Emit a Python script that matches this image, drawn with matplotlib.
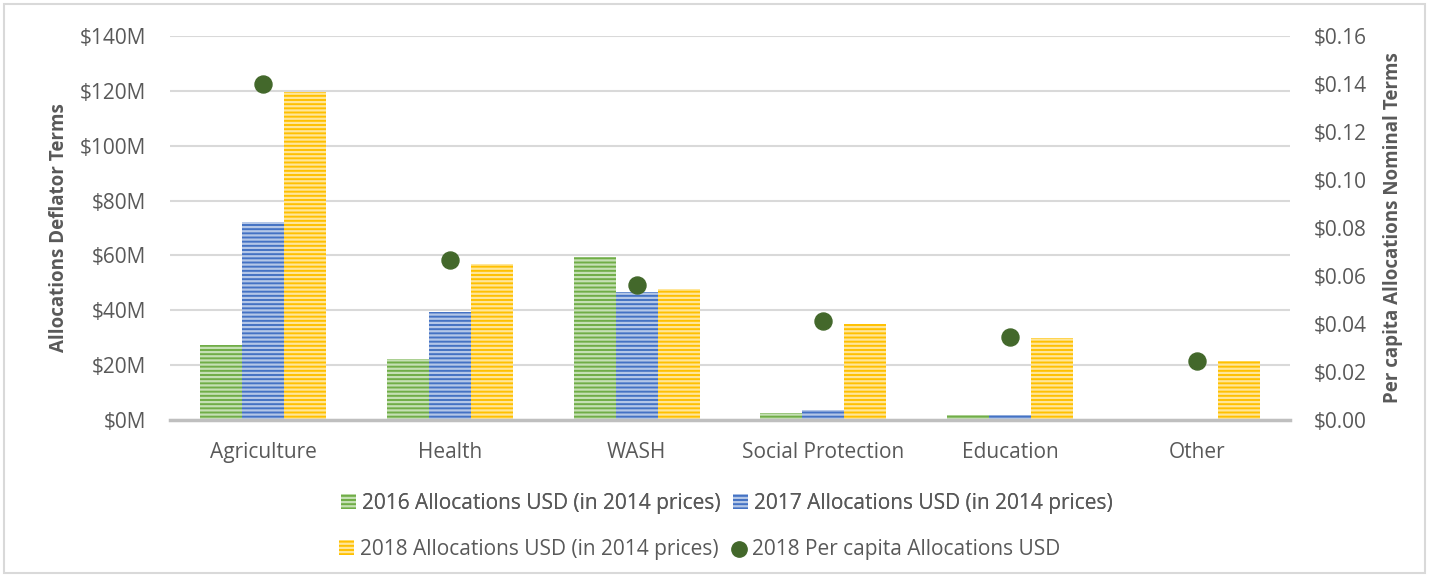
import matplotlib
matplotlib.use("Agg")
import matplotlib.pyplot as plt
import numpy as np
from matplotlib.ticker import FuncFormatter
from matplotlib.patches import Rectangle

categories = ["Agriculture", "Health", "WASH", "Social Protection", "Education", "Other"]
alloc_2016 = [27.3, 22.2, 59.4, 2.5, 1.8, 0.2]
alloc_2017 = [72.2, 39.4, 46.7, 3.6, 2.0, 0.3]
alloc_2018 = [119.6, 56.9, 47.8, 35.0, 29.9, 21.5]
percap_2018 = [0.140, 0.0667, 0.0563, 0.0412, 0.0346, 0.0246]

series_labels = ["2016 Allocations USD (in 2014 prices)",
                 "2017 Allocations USD (in 2014 prices)",
                 "2018 Allocations USD (in 2014 prices)",
                 "2018 Per capita Allocations USD"]

plt.rcParams['font.family'] = ['Open Sans', 'DejaVu Sans']
plt.rcParams['hatch.linewidth'] = 1.6
txt = '#595959'

fig = plt.figure(figsize=(14.29, 5.77), dpi=100)
ax = fig.add_axes([170/1429, 1-420/577, (1290-170)/1429, (420-36)/577])
ax2 = ax.twinx()

x = np.arange(len(categories))
w = 0.225
colors = ['#70AD47', '#4472C4', '#FFC000']
lights = ['#C5E0B4', '#B4C7E7', '#FFE699']
handles = []
for i, (vals, c, lc) in enumerate(zip([alloc_2016, alloc_2017, alloc_2018], colors, lights)):
    b = ax.bar(x + (i - 1) * w, vals, width=w, color=c, edgecolor=lc, linewidth=0,
               hatch='----', label=series_labels[i], zorder=2)
    handles.append(b)

sc = ax2.scatter(x, percap_2018, s=150, color='#43682B', zorder=3, label=series_labels[3])
handles.append(sc)

ax.set_xlim(-0.5, len(categories) - 0.5)
ax.set_ylim(0, 140)
ax.set_yticks(np.arange(0, 141, 20))
ax.yaxis.set_major_formatter(FuncFormatter(lambda v, p: f"${v:.0f}M"))
ax2.set_ylim(0, 0.16)
ax2.set_yticks(np.arange(0, 0.161, 0.02))
ax2.yaxis.set_major_formatter(FuncFormatter(lambda v, p: f"${v:.2f}"))

ax.grid(axis='y', color='#D9D9D9', linewidth=1.5, zorder=0)
ax.set_axisbelow(True)
for a in (ax, ax2):
    for s in a.spines.values():
        s.set_visible(False)
ax.spines['bottom'].set_visible(True)
ax.spines['bottom'].set_color('#BFBFBF')
ax.spines['bottom'].set_linewidth(2.5)

ax.set_xticks(x)
ax.set_xticklabels(categories)
ax.tick_params(axis='x', length=0, pad=16, labelsize=15, labelcolor=txt)
ax.tick_params(axis='y', length=0, pad=17, labelsize=15, labelcolor=txt)
ax2.tick_params(axis='y', length=0, pad=17, labelsize=15, labelcolor=txt)

ax.set_ylabel("Allocations Deflator Terms", fontsize=13.5, fontweight='bold', color=txt, labelpad=8)
ax2.set_ylabel("Per capita Allocations Nominal Terms", fontsize=13.5, fontweight='bold', color=txt, labelpad=12)

leg1 = fig.legend(handles[:2], series_labels[:2], loc='center', bbox_to_anchor=(727/1429, 1-503/577),
                  ncol=2, frameon=False, fontsize=15, labelcolor=txt, handlelength=0.7, handleheight=0.7,
                  handletextpad=0.3, columnspacing=0.6, markerscale=0.9)
leg2 = fig.legend(handles[2:], series_labels[2:], loc='center', bbox_to_anchor=(700/1429, 1-549/577),
                  ncol=2, frameon=False, fontsize=15, labelcolor=txt, handlelength=0.7, handleheight=0.7,
                  handletextpad=0.3, columnspacing=0.6, markerscale=0.9)
fig.add_artist(leg1)

fig.patches.append(Rectangle((4/1429, 4/577), 1 - 8/1429, 1 - 8/577, transform=fig.transFigure,
                             fill=False, edgecolor='#D9D9D9', linewidth=1.5))

fig.savefig("out.png", dpi=100)
